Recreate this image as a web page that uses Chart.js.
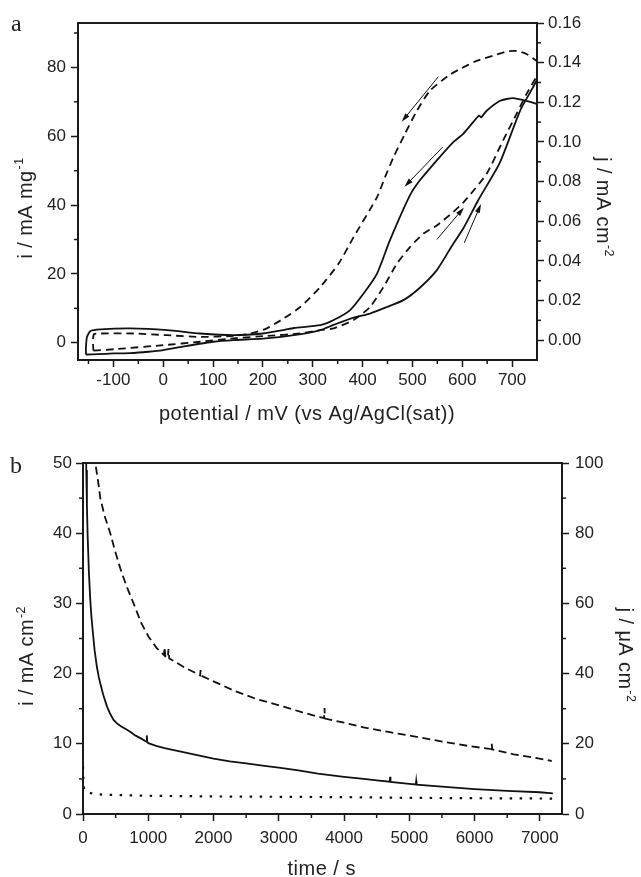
<!DOCTYPE html>
<html>
<head>
<meta charset="utf-8">
<script src="https://cdn.jsdelivr.net/npm/chart.js@4.4.0/dist/chart.umd.min.js"></script>
<style>
  html, body { margin: 0; padding: 0; background: #fff; }
  #quadro { position: relative; width: 641px; height: 877px; }
  #quadro canvas { position: absolute; left: 0; }
</style>
</head>
<body>
<div id="quadro">
  <canvas id="grafico-cv" width="641" height="440" style="top:0"></canvas>
  <canvas id="grafico-ca" width="641" height="437" style="top:440px"></canvas>
</div>
<script>
// ===================================================================
// DADOS - painel a (voltametria ciclica): varredura de ida + volta
// ===================================================================
const cvContinuaIdaE = [-155, -130, -100, -66, -30, 0, 48, 100, 141, 200, 262, 315, 342, 382, 415, 449, 482, 515, 549, 582, 602, 632, 676, 716, 742, 755];
const cvContinuaIdaI = [-3.4, -3.3, -3.1, -3.0, -2.6, -2.1, -0.9, 0.3, 0.8, 1.2, 2.2, 3.7, 5.2, 7.3, 8.5, 10.4, 12.4, 16.0, 21.1, 28.8, 33.2, 41.4, 52.5, 67.4, 74.2, 77.5];
const cvContinuaVoltaE = [755, 749, 729, 702, 676, 649, 638, 634, 622, 602, 582, 549, 515, 495, 455, 429, 402, 375, 342, 315, 262, 242, 200, 141, 74, 8, -66, -126, -146, -153, -155, -155];
const cvContinuaVoltaI = [68.8, 69.4, 70.3, 71.1, 70.3, 67.4, 65.5, 66.0, 64.1, 60.7, 58.3, 53.0, 47.2, 42.8, 29.8, 20.1, 14.3, 9.5, 6.6, 5.1, 4.3, 3.7, 2.7, 2.2, 2.7, 3.7, 4.2, 3.9, 3.4, 1.7, -1.2, -3.4];

const cvTracejadaIdaE = [-140, -93, 0, 74, 141, 208, 275, 315, 342, 382, 415, 442, 469, 495, 522, 549, 582, 605, 649, 682, 709, 729, 755];
const cvTracejadaIdaI = [-2.3, -1.8, -0.7, 0.3, 1.3, 2.0, 2.7, 3.7, 4.2, 6.6, 10.4, 16.2, 23.0, 27.8, 31.7, 34.1, 38.0, 41.2, 49.1, 58.8, 66.5, 72.3, 79.0];
const cvTracejadaVoltaE = [755, 749, 729, 709, 689, 662, 629, 595, 572, 535, 509, 485, 462, 445, 429, 382, 352, 315, 275, 242, 208, 175, 141, 74, 8, -59, -126, -139, -141, -140];
const cvTracejadaVoltaI = [81.0, 81.9, 83.9, 84.8, 84.6, 83.4, 81.9, 79.5, 77.6, 73.2, 67.4, 60.7, 53.9, 48.1, 42.3, 30.7, 23.0, 16.2, 10.4, 7.1, 4.2, 2.7, 2.0, 1.7, 2.2, 2.7, 2.7, 2.5, 0, -2.3];

// setas indicando o sentido da varredura (em unidades de dados: mV, mA mg-1)
const setaInicioE = [552, 561, 549, 604];
const setaInicioI = [77.3, 56.9, 30.0, 29.0];
const setaFimE = [478.5, 484, 603.5, 637.6];
const setaFimI = [64.2, 45.3, 39.3, 40.3];

// marcas dos eixos do painel a
const cvMarcasX = [-100, 0, 100, 200, 300, 400, 500, 600, 700];
const cvMarcasI = [0, 20, 40, 60, 80];
const cvMarcasJ = [0, 0.02, 0.04, 0.06, 0.08, 0.10, 0.12, 0.14, 0.16];

// ===================================================================
// DADOS - painel b (cronoamperometria)
// ===================================================================
const caContinuaT = [3, 20, 35, 50, 60, 70, 90, 112, 130, 150, 178, 214, 240, 265, 310, 368, 420, 469, 520, 580, 674, 740, 800, 900, 970, 978, 986, 1000, 1120, 1250, 1500, 1750, 2000, 2250, 2500, 2750, 3000, 3300, 3600, 4000, 4300, 4500, 4700, 4706, 4712, 5000, 5100, 5106, 5112, 5500, 6000, 6500, 7000, 7200];
const caContinuaI = [130, 80, 60, 49, 44, 40, 34.5, 30.4, 28, 26, 23.3, 20.9, 19.6, 18.6, 17.0, 15.3, 14.2, 13.4, 12.9, 12.5, 12.0, 11.6, 11.2, 10.7, 10.3, 11.2, 10.2, 10.1, 9.7, 9.4, 8.9, 8.4, 7.9, 7.5, 7.2, 6.9, 6.6, 6.2, 5.75, 5.3, 5.0, 4.8, 4.6, 5.3, 4.58, 4.3, 4.2, 4.7, 4.18, 3.9, 3.55, 3.3, 3.1, 2.95];

const caTracejadaT = [150, 188, 230, 265, 330, 418, 490, 571, 665, 775, 890, 1005, 1133, 1240, 1250, 1262, 1300, 1310, 1322, 1388, 1550, 1745, 1795, 1802, 1810, 2000, 2307, 2650, 3073, 3350, 3633, 3695, 3701, 3707, 4000, 4298, 4700, 5166, 5550, 5932, 6258, 6264, 6270, 6600, 6900, 7183];
const caTracejadaJ = [106, 100, 95, 90, 85, 80, 75, 70, 65, 60, 54.5, 50.5, 47.2, 45.3, 47.5, 44.9, 44.5, 47.0, 44.3, 43.6, 41.8, 40.0, 39.5, 41.0, 39.4, 37.8, 35.2, 32.8, 30.6, 29.0, 27.6, 27.3, 30.2, 27.2, 26.0, 24.7, 23.3, 21.8, 20.5, 19.3, 18.5, 20.0, 18.4, 17.0, 16.1, 15.1];

const caPontilhadaT = [0, 8, 25, 60, 150, 300, 1000, 2000, 3000, 4000, 5000, 6000, 7200];
const caPontilhadaJ = [13.5, 8.0, 6.6, 6.2, 5.8, 5.5, 5.2, 5.0, 4.9, 4.8, 4.6, 4.5, 4.4];

// marcas dos eixos do painel b
const caMarcasT = [0, 1000, 2000, 3000, 4000, 5000, 6000, 7000];
const caMarcasI = [0, 10, 20, 30, 40, 50];
const caMarcasJ = [0, 20, 40, 60, 80, 100];

// ===================================================================
// ESTILO
// ===================================================================
const FONTE = "'Liberation Sans', Arial, Helvetica, sans-serif";
const SERIFA = "'Liberation Serif', 'Times New Roman', serif";
const COR_EIXO = '#1a1a1a';
const COR_TEXTO = '#222';
const COR_LINHA = '#111';

// ===================================================================
// FUNCOES AUXILIARES
// ===================================================================
function pontos(xs, ys) {
    return xs.map((x, k) => ({ x: x, y: ys[k] }));
}

/**
 * Configuracao de um eixo linear com tamanho fixo e marcas dadas por lista.
 */
function eixo(posicao, min, max, marcas, tamanho, pad, formato) {
    return {
        type: 'linear',
        position: posicao,
        min: min,
        max: max,
        afterBuildTicks: s => { s.ticks = marcas.map(v => ({ value: v })); },
        afterFit: s => {
            if (s.isHorizontal()) s.height = tamanho;
            else s.width = tamanho;
        },
        border: { display: true, color: COR_EIXO, width: 2 },
        grid: { display: true, drawOnChartArea: false, drawTicks: true, tickLength: 7, tickWidth: 1.5, tickColor: COR_EIXO },
        ticks: {
            padding: pad, color: COR_TEXTO,
            font: { family: FONTE, size: 17 }, maxRotation: 0, autoSkip: false,
            callback: formato
        }
    };
}

// Marcas secundarias (menores) e borda superior da area do grafico
function pluginMarcas(passos) {
    return {
        id: 'marcasMenores',
        afterDraw(chart) {
            const ctx = chart.ctx;
            const area = chart.chartArea;
            ctx.save();
            ctx.strokeStyle = COR_EIXO;
            ctx.lineWidth = 1.5;
            Object.entries(passos).forEach(([id, passo]) => {
                const s = chart.scales[id];
                const k0 = Math.ceil(s.min / passo - 1e-9);
                const k1 = Math.floor(s.max / passo + 1e-9);
                for (let k = k0; k <= k1; k++) {
                    const v = k * passo;
                    if (s.ticks.some(t => Math.abs(t.value - v) < passo / 10)) continue;
                    const p = s.getPixelForValue(v);
                    ctx.beginPath();
                    if (s.isHorizontal()) {
                        if (p < area.left + 1 || p > area.right - 1) continue;
                        ctx.moveTo(p, s.top); ctx.lineTo(p, s.top + 4);
                    } else {
                        if (p < area.top + 1 || p > area.bottom - 1) continue;
                        if (s.position === 'left') { ctx.moveTo(s.right, p); ctx.lineTo(s.right - 4, p); }
                        else { ctx.moveTo(s.left, p); ctx.lineTo(s.left + 4, p); }
                    }
                    ctx.stroke();
                }
            });
            ctx.lineWidth = 2;
            ctx.beginPath();
            ctx.moveTo(area.left - 1, area.top);
            ctx.lineTo(area.right + 1, area.top);
            ctx.stroke();
            ctx.restore();
        }
    };
}

// Setas finas com ponta preenchida
function pluginSetas() {
    return {
        id: 'setas',
        afterDatasetsDraw(chart) {
            const { ctx, scales: { x, y } } = chart;
            ctx.save();
            ctx.strokeStyle = COR_LINHA;
            ctx.fillStyle = COR_LINHA;
            ctx.lineWidth = 1;
            setaInicioE.forEach((e0, k) => {
                const x0 = x.getPixelForValue(e0), y0 = y.getPixelForValue(setaInicioI[k]);
                const x1 = x.getPixelForValue(setaFimE[k]), y1 = y.getPixelForValue(setaFimI[k]);
                const ang = Math.atan2(y1 - y0, x1 - x0);
                const comp = 9, meia = 2.6;
                ctx.beginPath();
                ctx.moveTo(x0, y0);
                ctx.lineTo(x1 - Math.cos(ang) * comp * 0.7, y1 - Math.sin(ang) * comp * 0.7);
                ctx.stroke();
                ctx.beginPath();
                ctx.moveTo(x1, y1);
                ctx.lineTo(x1 - Math.cos(ang) * comp - Math.sin(ang) * meia, y1 - Math.sin(ang) * comp + Math.cos(ang) * meia);
                ctx.lineTo(x1 - Math.cos(ang) * comp + Math.sin(ang) * meia, y1 - Math.sin(ang) * comp - Math.cos(ang) * meia);
                ctx.closePath();
                ctx.fill();
            });
            ctx.restore();
        }
    };
}

// Textos (letra do painel e titulos dos eixos com sobrescrito)
function desenharTexto(ctx, it) {
    const fam = it.familia || FONTE;
    const tamSup = it.tam * 0.62;
    ctx.save();
    ctx.translate(it.x, it.y);
    ctx.rotate((it.rot || 0) * Math.PI / 180);
    ctx.fillStyle = COR_TEXTO;
    ctx.textBaseline = 'alphabetic';
    ctx.textAlign = 'left';
    if ('letterSpacing' in ctx) ctx.letterSpacing = (it.esp || 0) + 'px';
    ctx.font = `${it.tam}px ${fam}`;
    const wPrinc = ctx.measureText(it.texto).width;
    let wSup = 0;
    if (it.sup) {
        ctx.font = `${tamSup}px ${fam}`;
        wSup = ctx.measureText(it.sup).width + 1;
    }
    const x0 = it.esquerda ? 0 : -(wPrinc + wSup) / 2;
    ctx.font = `${it.tam}px ${fam}`;
    ctx.fillText(it.texto, x0, 0);
    if (it.sup) {
        ctx.font = `${tamSup}px ${fam}`;
        ctx.fillText(it.sup, x0 + wPrinc + 1, -it.tam * 0.42);
    }
    ctx.restore();
}

function pluginTextos(itens) {
    return {
        id: 'textos',
        afterDraw(chart) {
            itens.forEach(it => desenharTexto(chart.ctx, it));
        }
    };
}

const opcoesBase = {
    responsive: false,
    animation: false,
    events: [],
    plugins: { legend: { display: false }, tooltip: { enabled: false } }
};

// ===================================================================
// PAINEL a
// ===================================================================
new Chart(document.getElementById('grafico-cv'), {
    type: 'line',
    data: {
        datasets: [
            {
                data: pontos(cvContinuaIdaE.concat(cvContinuaVoltaE), cvContinuaIdaI.concat(cvContinuaVoltaI)),
                borderColor: COR_LINHA, borderWidth: 1.8, pointRadius: 0, tension: 0.2, fill: false
            },
            {
                data: pontos(cvTracejadaIdaE.concat(cvTracejadaVoltaE), cvTracejadaIdaI.concat(cvTracejadaVoltaI)),
                borderColor: COR_LINHA, borderWidth: 1.8, borderDash: [7.5, 5], pointRadius: 0, tension: 0.2, fill: false
            }
        ]
    },
    options: {
        ...opcoesBase,
        layout: { padding: { top: 23, left: 0, right: 0, bottom: 0 } },
        scales: {
            x: eixo('bottom', -171, 750, cvMarcasX, 80, 3, v => String(v)),
            y: eixo('left', -5, 92.9, cvMarcasI, 78, 5, v => String(v)),
            y2: eixo('right', -0.01, 0.16, cvMarcasJ, 104, 4, v => v.toFixed(2))
        }
    },
    plugins: [
        pluginMarcas({ x: 50, y: 10, y2: 0.01 }),
        pluginSetas(),
        pluginTextos([
            { texto: 'a', x: 11, y: 30.5, tam: 24, familia: SERIFA, esquerda: true },
            { texto: 'i / mA mg', sup: '-1', x: 31.5, y: 208, rot: -90, tam: 20, esp: 0.4 },
            { texto: 'j / mA cm', sup: '-2', x: 596.5, y: 207, rot: 90, tam: 20, esp: 0.4 },
            { texto: 'potential / mV (vs Ag/AgCl(sat))', x: 307, y: 420, tam: 20, esp: 0.5 }
        ])
    ]
});

// ===================================================================
// PAINEL b
// ===================================================================
new Chart(document.getElementById('grafico-ca'), {
    type: 'line',
    data: {
        datasets: [
            {
                data: pontos(caContinuaT, caContinuaI), yAxisID: 'y',
                borderColor: COR_LINHA, borderWidth: 1.8, pointRadius: 0, tension: 0, fill: false
            },
            {
                data: pontos(caTracejadaT, caTracejadaJ), yAxisID: 'y2',
                borderColor: COR_LINHA, borderWidth: 1.8, borderDash: [8, 4.5], pointRadius: 0, tension: 0, fill: false
            },
            {
                data: pontos(caPontilhadaT, caPontilhadaJ), yAxisID: 'y2',
                borderColor: COR_LINHA, borderWidth: 2.2, borderDash: [2.5, 7.5], pointRadius: 0, tension: 0, fill: false
            }
        ]
    },
    options: {
        ...opcoesBase,
        layout: { padding: { top: 23, left: 0, right: 0, bottom: 0 } },
        scales: {
            x: eixo('bottom', 0, 7340, caMarcasT, 63, 7, v => String(v)),
            y: eixo('left', 0, 50, caMarcasI, 83, 4, v => String(v)),
            y2: eixo('right', 0, 100, caMarcasJ, 79, 6, v => String(v))
        }
    },
    plugins: [
        pluginMarcas({ x: 500, y: 5, y2: 10 }),
        pluginTextos([
            { texto: 'b', x: 10, y: 32.5, tam: 24, familia: SERIFA, esquerda: true },
            { texto: 'i / mA cm', sup: '-2', x: 33, y: 216, rot: -90, tam: 20, esp: 0.4 },
            { texto: 'j / \u03bcA cm', sup: '-2', x: 618.5, y: 215, rot: 90, tam: 20, esp: 0.4 },
            { texto: 'time / s', x: 321.7, y: 435, tam: 20, esp: 0.5 }
        ])
    ]
});
</script>
</body>
</html>
